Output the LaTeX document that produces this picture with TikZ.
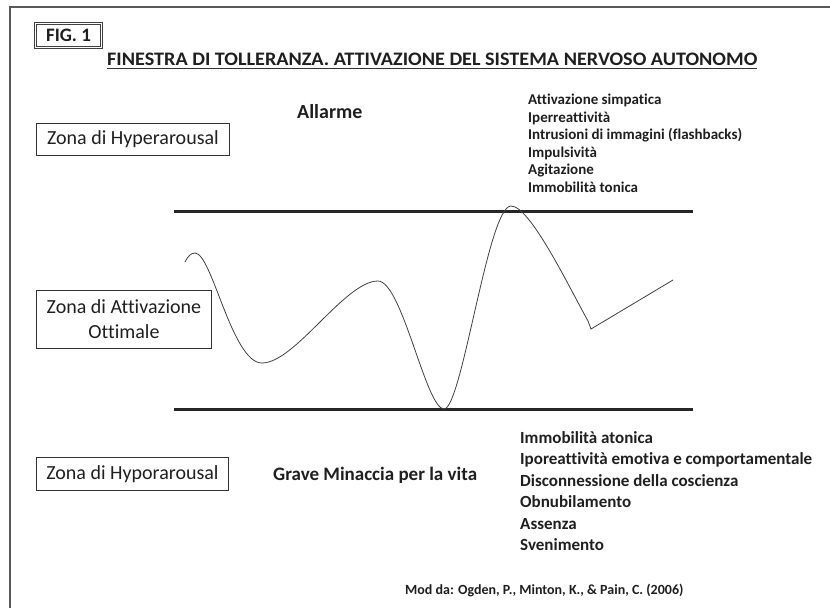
\documentclass[tikz,border=0pt]{standalone}
\usepackage{fontspec}
\setmainfont{Carlito}[Ligatures=CommonOff]
\usepackage{graphicx}
\begin{document}
\begin{tikzpicture}[x=1pt,y=-1pt,
  ink/.style={text=black!88},
  zonebox/.style={draw=black!80, line width=0.9pt, inner sep=0pt, align=center, anchor=north west, ink, font=\fontsize{20}{24}\selectfont},
  bar/.style={draw=black!85, line width=3pt},
  frame/.style={draw=black!65, line width=1.6pt},
  hyperitem/.style={anchor=base west, inner sep=0pt, ink, font=\bfseries\fontsize{15}{16}\selectfont},
  hypoitem/.style={anchor=base west, inner sep=0pt, ink, font=\bfseries\fontsize{17}{19}\selectfont},
  wave/.style={draw=black!75, line width=0.8pt}
]
\useasboundingbox (0,0) rectangle (830,608);
% outer frame (left and top edges visible)
\coordinate (fa) at (10,608);
\coordinate (fb) at (10,7);
\coordinate (fc) at (830,7);
\draw[frame] (fa) -- (fb) -- (fc);

% FIG. 1 label
\node[draw=black!75, double=white, double distance=1.6pt, line width=0.9pt, minimum width=66pt, minimum height=24pt, inner sep=0pt, ink, font=\bfseries\fontsize{19}{22}\selectfont] (fig) at (68.5,35.5) {FIG. 1};

% title
\node[anchor=base west, inner sep=0pt, ink] (title) at (107,65) {\resizebox{650pt}{12.5pt}{\bfseries FINESTRA DI TOLLERANZA. ATTIVAZIONE DEL SISTEMA NERVOSO AUTONOMO}};
\coordinate (ua) at (107,68.5);
\coordinate (ub) at (757,68.5);
\draw[draw=black!80, line width=1.4pt] (ua) -- (ub);

% zone boxes
\node[zonebox, minimum width=193pt, minimum height=32pt] (hyper) at (36,123) {Zona di Hyperarousal};
\node[zonebox, minimum width=175pt, minimum height=58pt, font=\fontsize{20}{25}\selectfont] (ottimale) at (36,290) {Zona di Attivazione\\Ottimale};
\node[zonebox, minimum width=192pt, minimum height=33pt] (hypo) at (36,457) {Zona di Hyporarousal};

% labels
\node[anchor=base west, inner sep=0pt, ink, font=\bfseries\fontsize{20}{22}\selectfont] (allarme) at (297,118) {Allarme};
\node[anchor=base west, inner sep=0pt, ink, font=\bfseries\fontsize{19}{22}\selectfont] (grave) at (273,480) {Grave Minaccia per la vita};

% hyper list
\node[hyperitem] (h1) at (528,104.5) {Attivazione simpatica};
\node[hyperitem] (h2) at (528,122) {Iperreattività};
\node[hyperitem] (h3) at (528,139.5) {Intrusioni di immagini (flashbacks)};
\node[hyperitem] (h4) at (528,157) {Impulsività};
\node[hyperitem] (h5) at (528,174.5) {Agitazione};
\node[hyperitem] (h6) at (528,192) {Immobilità tonica};

% hypo list
\node[hypoitem] (l1) at (520,443) {Immobilità atonica};
\node[hypoitem] (l2) at (520,464.5) {Iporeattività emotiva e comportamentale};
\node[hypoitem] (l3) at (520,486) {Disconnessione della coscienza};
\node[hypoitem] (l4) at (520,507.5) {Obnubilamento};
\node[hypoitem] (l5) at (520,529) {Assenza};
\node[hypoitem] (l6) at (520,550.5) {Svenimento};

% source
\node[anchor=base west, inner sep=0pt, ink, font=\bfseries\fontsize{14}{16}\selectfont] (source) at (405,594) {Mod da: Ogden, P., Minton, K., \& Pain, C. (2006)};

% window lines
\coordinate (ta) at (174,211);
\coordinate (tb) at (693,211);
\coordinate (ba) at (174,409);
\coordinate (bb) at (693,409);
\draw[bar] (ta) -- (tb);
\draw[bar] (ba) -- (bb);

% activation curve
\coordinate (w0) at (185,262);
\coordinate (p1) at (195,253);
\coordinate (m1) at (262,363);
\coordinate (p2) at (378,281);
\coordinate (m2) at (444,409);
\coordinate (p3) at (511,206);
\coordinate (k1) at (588,321);
\coordinate (k2) at (591,329);
\coordinate (we) at (673,280);
\draw[wave] (w0) .. controls (188,256) and (191,253) .. (p1)
  .. controls (212,253) and (232,363) .. (m1)
  .. controls (295,363) and (345,281) .. (p2)
  .. controls (402,281) and (426,409) .. (m2)
  .. controls (462,409) and (488,206) .. (p3)
  .. controls (530,206) and (568,285) .. (k1)
  -- (k2) -- (we);
\end{tikzpicture}
\end{document}
